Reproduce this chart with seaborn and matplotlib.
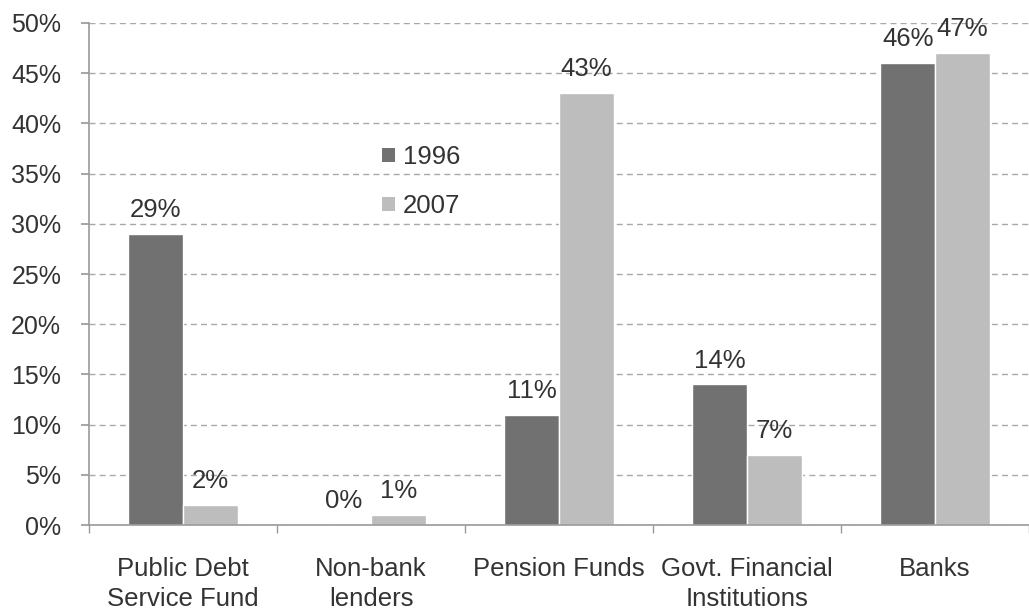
import matplotlib
matplotlib.use("Agg")
import matplotlib.pyplot as plt
import seaborn as sns
import pandas as pd
import numpy as np
from matplotlib.ticker import FuncFormatter, FixedLocator
from matplotlib.patches import Patch

categories = ["Public Debt\nService Fund", "Non-bank\nlenders", "Pension Funds",
              "Govt. Financial\nInstitutions", "Banks"]
years = ["1996", "2007"]
values_1996 = [29, 0, 11, 14, 46]
values_2007 = [2, 1, 43, 7, 47]
colors = ["#717171", "#bdbdbd"]

df = pd.DataFrame({
    "category": categories * 2,
    "year": [years[0]] * len(categories) + [years[1]] * len(categories),
    "value": values_1996 + values_2007,
})

sns.set_theme(style="white")
plt.rcParams["font.family"] = ["Liberation Sans", "DejaVu Sans"]

fig = plt.figure(figsize=(10.29, 6.11), dpi=100)
ax = fig.add_axes([0.0865, 0.1407, 0.9135, 0.8217])

sns.barplot(data=df, x="category", y="value", hue="year", palette=colors,
            width=0.58, ax=ax, saturation=1, legend=False)

ax.set_xlim(-0.5, len(categories) - 0.5)
ax.set_ylim(0, 50)
ax.yaxis.set_major_locator(FixedLocator(np.arange(0, 51, 5)))
ax.yaxis.set_major_formatter(FuncFormatter(lambda v, p: f"{int(v)}%"))
ax.grid(axis="y", linestyle=(0, (4.3, 3.0)), color="#a8a8a8", linewidth=1)
ax.set_axisbelow(True)

for s in ["top", "right"]:
    ax.spines[s].set_visible(False)
for s in ["left", "bottom"]:
    ax.spines[s].set_color("#9a9a9a")
    ax.spines[s].set_linewidth(1.2)

ax.tick_params(axis="y", which="major", left=True, length=6, color="#9a9a9a",
               labelsize=18, labelcolor="#333333", pad=14)
ax.tick_params(axis="x", which="major", bottom=False, labelsize=18.5,
               labelcolor="#333333", pad=17)
for lbl in ax.get_xticklabels():
    lbl.set_linespacing(1.3)
ax.xaxis.set_minor_locator(FixedLocator(np.arange(-0.5, len(categories), 1.0)))
ax.tick_params(axis="x", which="minor", bottom=True, length=6, color="#9a9a9a")
ax.set_xlabel("")
ax.set_ylabel("")

for cont in ax.containers:
    ax.bar_label(cont, labels=[f"{int(v)}%" for v in cont.datavalues],
                 padding=8.5, fontsize=18.5, color="#333333")

handles = [Patch(facecolor=c, edgecolor="none") for c in colors]
leg = ax.legend(handles, years, loc="upper left", bbox_to_anchor=(0.312, 0.756),
                frameon=False, fontsize=18.5, handlelength=0.48, handleheight=0.48,
                handletextpad=0.32, labelspacing=0.95, borderpad=0, borderaxespad=0)
for t in leg.get_texts():
    t.set_color("#333333")

fig.savefig("out.png", dpi=100)
